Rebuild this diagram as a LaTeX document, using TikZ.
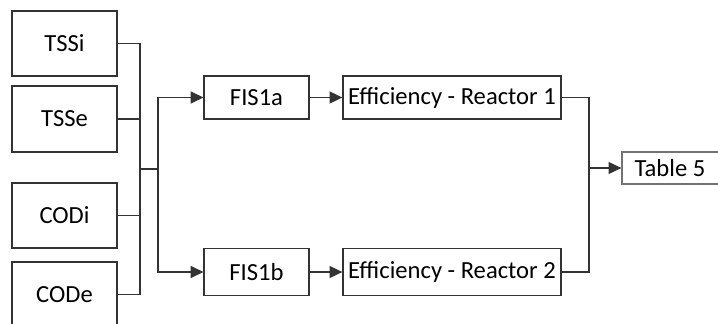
\documentclass[tikz,border=0pt]{standalone}
\usepackage{fontspec}
\setmainfont{Carlito}
\usetikzlibrary{arrows.meta}
\begin{document}
\begin{tikzpicture}[x=0.025cm,y=-0.025cm]
  \tikzset{ b/.style={draw=black!80,line width=0.9pt,inner sep=0pt,font=\fontsize{17.5}{20}\selectfont},
    l/.style={draw=black!80,line width=0.9pt},
    a/.style={l,-{Triangle[length=0.32cm,width=0.3cm]}},
  }
  \useasboundingbox (0,0) rectangle (718,323);
  \node[b,minimum width=2.62cm,minimum height=1.62cm] (tssi) at (64.5,43.5) {TSSi};
  \node[b,minimum width=2.62cm,minimum height=1.65cm] (tsse) at (64.5,119) {TSSe};
  \node[b,minimum width=2.62cm,minimum height=1.62cm] (codi) at (64.5,215.5) {CODi};
  \node[b,minimum width=2.62cm,minimum height=1.62cm] (code) at (64.5,294.5) {CODe};
  \node[b,minimum width=2.62cm,minimum height=1.08cm] (fis1a) at (256.5,97.5) {FIS1a};
  \node[b,minimum width=2.62cm,minimum height=1.18cm] (fis1b) at (256.5,272) {FIS1b};
  \node[b,minimum width=5.45cm,minimum height=1.08cm] (eff1) at (452,97.5) {Efficiency - Reactor 1};
  \node[b,minimum width=5.45cm,minimum height=1.18cm] (eff2) at (452,272) {Efficiency - Reactor 2};
  \node[b,draw=black!55,minimum width=2.7cm,minimum height=0.8cm] (tab5) at (676,168) {\hspace*{-0.3cm}Table 5};
  \coordinate (bus) at (140,169);
  \coordinate (split) at (158,169);
  \coordinate (join) at (589,168);

  % the inputs into the bus
  \draw[l] (tssi.east) -| (bus);
  \draw[l] (tsse.east) -| (bus);
  \draw[l] (codi.east) -| (bus);
  \draw[l] (code.east) -| (bus);
  \draw[l] (bus) -- (split);
  \draw[a] (split) |- (fis1a);
  \draw[a] (split) |- (fis1b);
  \draw[a] (fis1a) -- (eff1);
  \draw[a] (fis1b) -- (eff2);
  % the outputs to the table
  \draw[l] (eff1.east) -| (join);
  \draw[l] (eff2.east) -| (join);
  \draw[a] (join) -- (tab5);
\end{tikzpicture}
\end{document}
